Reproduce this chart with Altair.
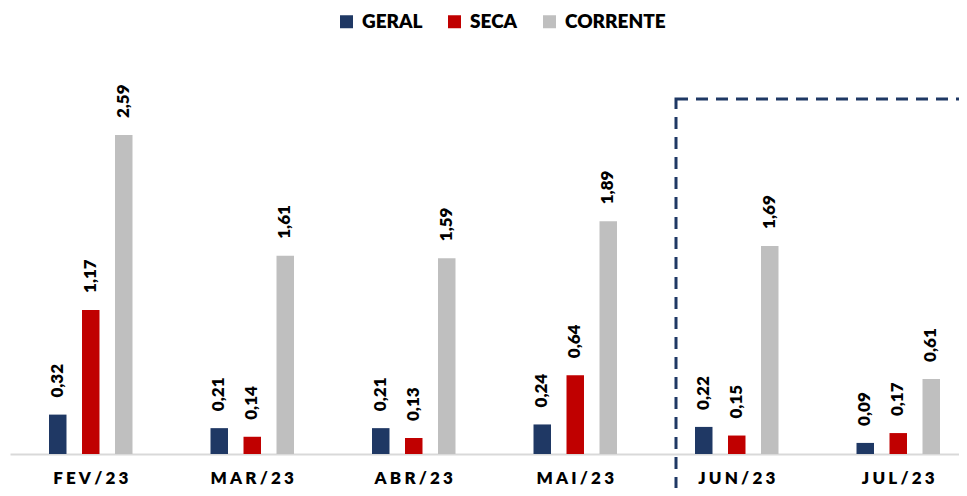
import altair as alt
import pandas as pd

meses = ["FEV/23", "MAR/23", "ABR/23", "MAI/23", "JUN/23", "JUL/23"]
series = ["GERAL", "SECA", "CORRENTE"]
geral = [0.32, 0.21, 0.21, 0.24, 0.22, 0.09]
seca = [1.17, 0.14, 0.13, 0.64, 0.15, 0.17]
corrente = [2.59, 1.61, 1.59, 1.89, 1.69, 0.61]
cores = ["#1F3864", "#C00000", "#BFBFBF"]

rows = []
for i, m in enumerate(meses):
    for s, vals in zip(series, [geral, seca, corrente]):
        rows.append({"mes": m, "serie": s, "valor": vals[i]})
df = pd.DataFrame(rows)

FONT = "Lato"
WEIGHT = 800

xscale = alt.Scale(domain=meses, range=[0, 969], paddingInner=0.387, paddingOuter=0.1935)
xoff = alt.Scale(domain=series, paddingInner=0.47, paddingOuter=0.235)
yscale = alt.Scale(domain=[0, 3.2])

base = alt.Chart(df).encode(
    x=alt.X("mes:N", scale=xscale, sort=meses,
            axis=alt.Axis(title=None, labelAngle=0, labelFont=FONT, labelFontSize=17,
                          labelFontWeight=WEIGHT, labelColor="#000000",
                          labelBaseline="middle", labelPadding=24, ticks=False, tickSize=0,
                          domainColor="#D9D9D9", domainWidth=2,
                          labelExpr="join(split(datum.label, ''), '\u2009\u200a')")),
    xOffset=alt.XOffset("serie:N", scale=xoff, sort=series),
    y=alt.Y("valor:Q", scale=yscale, axis=None),
)

bars = base.mark_bar().encode(
    color=alt.Color("serie:N", sort=series,
                    scale=alt.Scale(domain=series, range=cores),
                    legend=alt.Legend(orient="none", legendX=327, legendY=-48,
                                      direction="horizontal", title=None,
                                      symbolType="square", symbolSize=169,
                                      symbolStrokeWidth=0, labelFont=FONT,
                                      labelFontSize=19, labelFontWeight=WEIGHT,
                                      labelColor="#000000", columnPadding=22,
                                      labelOffset=6))
)

labels = base.transform_calculate(
    rotulo="replace(format(datum.valor, '.2f'), '.', ',')"
).mark_text(angle=270, align="left", baseline="middle", dx=17,
            font=FONT, fontSize=17, fontWeight=WEIGHT, color="#000000").encode(
    text="rotulo:N"
)

box = alt.Chart(pd.DataFrame({"a": [0]})).mark_rect(
    fill="#ffffff", fillOpacity=0, stroke="#1F3864", strokeWidth=3, strokeDash=[12, 8]
).encode(x=alt.value(666), x2=alt.value(1000), y=alt.value(39), y2=alt.value(440))

chart = alt.layer(bars, labels, box).properties(
    width=949, height=394,
    padding={"left": 2, "top": 52, "right": 0, "bottom": 34},
    autosize=alt.AutoSizeParams(type="none"),
).configure_view(stroke=None)

chart.save("out.html", embed_options={"renderer": "svg", "actions": False})
